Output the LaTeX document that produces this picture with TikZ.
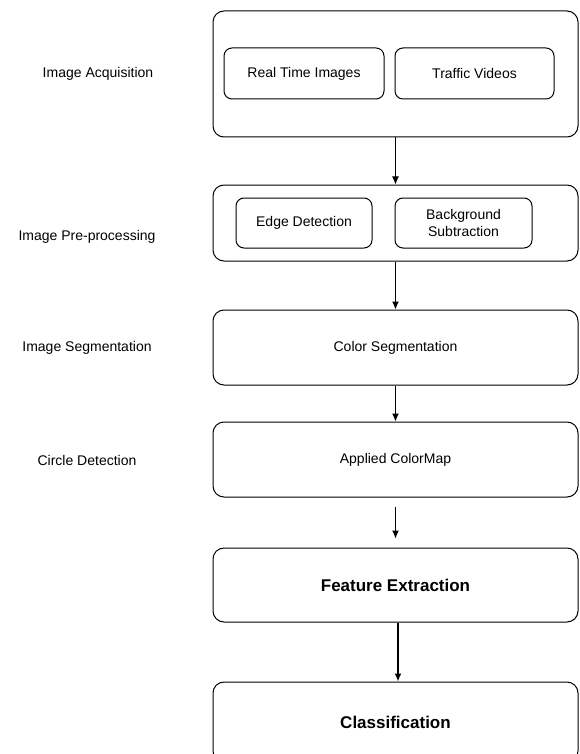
\documentclass[tikz,border=0pt]{standalone}
\usepackage{fontspec}
\setmainfont{Liberation Sans}
\usepackage{tikz}
\usetikzlibrary{positioning, arrows.meta}

\begin{document}
\begin{tikzpicture}[>={Latex[length=8pt,width=7pt]}, x=1pt, y=-1pt,
    stage/.style={draw, rounded corners=11pt, line width=1pt, minimum width=365pt, inner sep=0pt, font=\fontsize{14}{17}\selectfont},
    part/.style={draw, rounded corners=8pt, line width=1pt, inner sep=0pt, align=center, font=\fontsize{14}{17}\selectfont},
    lbl/.style={font=\fontsize{14}{17}\selectfont},
    big/.style={font=\fontsize{17}{20}\selectfont\bfseries}]
    \clip (0,0) rectangle (579,754);

    % 1. Nhan ben trai
    \node[lbl] (lacq) at (98,74) {Image Acquisition};
    \node[lbl] (lpre) at (87,237) {Image Pre-processing};
    \node[lbl] (lseg) at (87,348) {Image Segmentation};
    \node[lbl] (lcir) at (87,460) {Circle Detection};

    % 2. Cac khoi
    \node[stage, minimum height=126pt] (acq) at (395.5,74) {};
    \node[part, minimum width=160pt, minimum height=51pt] (rti) at (304,73.5) {Real Time Images};
    \node[part, minimum width=159pt, minimum height=51pt] (tv) at (474.5,73.5) {Traffic Videos};

    \node[stage, minimum height=76pt] (pre) at (395.5,223) {};
    \node[part, minimum width=136pt, minimum height=50pt] (edge) at (304,223) {Edge Detection};
    \node[part, minimum width=137pt, minimum height=50pt] (bg) at (463.5,223) {Background\\Subtraction};

    \node[stage, minimum height=75pt] (seg) at (395.5,347.5) {Color Segmentation};
    \node[stage, minimum height=75pt] (cmap) at (395.5,459.5) {Applied ColorMap};
    \node[stage, minimum height=74pt, big] (feat) at (395.5,585) {Feature Extraction};
    \node[stage, minimum height=80pt, big] (cls) at (395.5,722) {Classification};

    % 3. Mui ten
    \draw[->, line width=1pt] (acq) -- (pre);
    \draw[->, line width=1pt] (pre) -- (seg);
    \draw[->, line width=1pt] (seg) -- (cmap);
    \draw[->, line width=1pt, shorten <=9pt, shorten >=9pt] (cmap) -- (feat);
    \draw[->, line width=1.8pt] ([xshift=2.5pt]feat.south) -- ([xshift=2.5pt]cls.north);
\end{tikzpicture}
\end{document}
